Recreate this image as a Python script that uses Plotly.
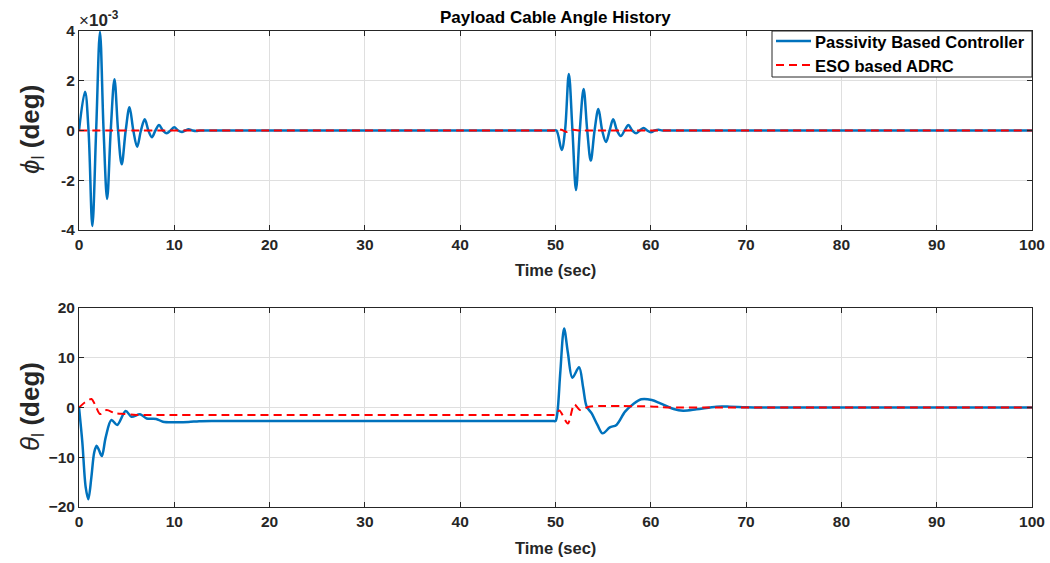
import plotly.graph_objects as go

# ---------------- data ----------------
# Top panel: phi_l (deg), values in degrees
phi_pbc_t = [0, 0.63, 1.0, 1.4, 1.8, 2.2, 2.58, 2.95, 3.33, 3.72, 4.1, 4.48, 4.9, 5.3, 5.7,
             6.1, 6.5, 6.9, 7.28, 7.65, 8.02, 8.4, 8.8, 9.2, 9.6, 10.0, 10.4, 10.8, 11.15,
             11.5, 11.9, 12.3, 12.7, 13.2, 14, 20, 30, 40, 48, 49.5, 49.8, 50.1,
             50.65, 51.0, 51.4, 51.78, 52.15, 52.55, 52.95, 53.33, 53.7, 54.1, 54.5, 54.9,
             55.3, 55.68, 56.05, 56.45, 56.85, 57.25, 57.65, 58.05, 58.45, 58.85, 59.25,
             59.62, 60.0, 60.4, 60.8, 61.2, 61.6, 62.2, 63, 70, 80, 90, 100]
phi_pbc_v = [0, 1.56e-3, 0, -3.84e-3, 0, 3.97e-3, 0, -2.75e-3, 0, 2.06e-3, 0, -1.36e-3, 0,
             0.93e-3, 0, -0.65e-3, 0, 0.45e-3, 0, -0.27e-3, 0, 0.22e-3, 0, -0.11e-3, 0,
             0.13e-3, 0, -0.06e-3, 0, 0.05e-3, 0, -0.02e-3, 0, 0, 0, 0, 0, 0, 0, 0, 0, 0,
             -0.78e-3, 0, 2.27e-3, 0, -2.39e-3, 0, 1.67e-3, 0, -1.21e-3, 0, 0.86e-3, 0,
             -0.46e-3, 0, 0.45e-3, 0, -0.22e-3, 0, 0.22e-3, 0, -0.11e-3, 0, 0.10e-3,
             0, -0.07e-3, 0, 0.03e-3, 0, 0, 0, 0, 0, 0, 0, 0]

phi_adrc_t = [0, 20, 40, 49, 49.6, 50, 50.6, 51.2, 51.8, 52.5, 53, 54, 60, 80, 100]
phi_adrc_v = [0, 0, 0, 0, 0, 0, 0.03e-3, -0.06e-3, 0.03e-3, 0, 0, 0, 0, 0, 0]

# Bottom panel: theta_l (deg)
theta_pbc_t = [0, 0.35, 0.7, 0.98, 1.3, 1.6, 1.85, 2.1, 2.4, 2.8, 3.4, 4.0, 4.9, 5.5, 6.4,
               7.1, 8.1, 8.8, 10.2, 11.5, 12.6, 14, 16, 20, 25, 30, 35, 40, 45, 48, 49.3,
               49.7, 50.0, 50.2, 50.5, 50.9, 51.3, 51.77,
               52.47, 52.9, 53.27, 53.8, 54.4, 54.95, 55.7, 56.4, 57.3, 58.17, 59.0, 60.1,
               61.0, 62.4, 63.4, 64.8, 66.9, 68.3, 70, 72, 74, 78, 85, 92, 100]
theta_pbc_v = [0, -7, -16, -18.45, -14, -9, -7.7, -8.6, -9.75, -6, -2.5, -3.5, -0.7, -1.85,
               -1.37, -2.2, -2.3, -2.85, -2.95, -2.9, -2.75, -2.7, -2.7, -2.7, -2.7, -2.7,
               -2.7, -2.7, -2.7, -2.7, -2.7, -2.7, -2.7, -1, 7, 15.9, 11,
               6.0, 8.08, 4, 0.2, -1.2, -3.5, -5.2, -4.0, -3.5, -0.84, 0.7, 1.64, 1.5,
               0.84, -0.3, -0.64, -0.37, 0.17, 0.17, 0.05, 0, 0, 0, 0, 0, 0]

theta_adrc_t = [0, 0.6, 1.3, 1.75, 2.2, 2.9, 3.7, 4.75, 6, 7, 9, 15, 25, 35, 45, 48,
                49.3, 49.7, 50, 50.4, 51.3, 51.97, 52.57, 53.5, 55, 57, 60, 61, 62, 63,
                66, 75, 85, 100]
theta_adrc_v = [0, 1.0, 1.7, 0.3, -1.3, -0.5, -1.1, -1.3, -1.5, -1.5, -1.5, -1.5, -1.5,
                -1.5, -1.5, -1.5, -1.5, -1.5, -1.5, -0.6, -3.2, 0.64, -0.5, 0.16, 0.3,
                0.3, 0.2, 0.1, 0, 0, 0, 0, 0, 0]

series_names = ["Passivity Based Controller", "ESO based ADRC"]
x_ticks = [0, 10, 20, 30, 40, 50, 60, 70, 80, 90, 100]
phi_ticks = [-4e-3, -2e-3, 0, 2e-3, 4e-3]
phi_ticktext = ["-4", "-2", "0", "2", "4"]
theta_ticks = [-20, -10, 0, 10, 20]

# ---------------- figure ----------------
W, H = 1050, 563
ML, MR, MT, MB = 79, 18, 31, 56
PW, PH = W - ML - MR, H - MT - MB

def px(x):
    return (x - ML) / PW

def py(y):
    return (H - MB - y) / PH

BLUE = "#0072BD"
RED = "#FF0000"
FONT = "Liberation Sans, Arial, Helvetica, sans-serif"
styles = [dict(color=BLUE, width=2.5), dict(color=RED, width=2, dash="8px,5px")]

fig = go.Figure()
fig.add_trace(go.Scatter(x=phi_pbc_t, y=phi_pbc_v, mode="lines", name=series_names[0],
                         line=dict(**styles[0], shape="spline", smoothing=1.0),
                         xaxis="x", yaxis="y"))
fig.add_trace(go.Scatter(x=phi_adrc_t, y=phi_adrc_v, mode="lines", name=series_names[1],
                         line=dict(**styles[1], shape="spline", smoothing=0.8),
                         xaxis="x", yaxis="y"))
fig.add_trace(go.Scatter(x=theta_pbc_t, y=theta_pbc_v, mode="lines", name=series_names[0],
                         line=dict(**styles[0], shape="spline", smoothing=0.9),
                         xaxis="x2", yaxis="y2"))
fig.add_trace(go.Scatter(x=theta_adrc_t, y=theta_adrc_v, mode="lines", name=series_names[1],
                         line=dict(**styles[1], shape="spline", smoothing=0.8),
                         xaxis="x2", yaxis="y2"))

axis_common = dict(showline=True, linecolor="#262626", linewidth=1, mirror="ticks",
                   ticks="inside", ticklen=5, tickcolor="#262626", automargin=False,
                   showgrid=True, gridcolor="#DFDFDF", gridwidth=1, zeroline=False,
                   tickfont=dict(family=FONT, size=15.5, color="#262626", weight="bold"))

top_dom = [py(230), 1]
bot_dom = [0, py(308)]

fig.update_layout(
    width=W, height=H, autosize=False,
    margin=dict(l=ML, r=MR, t=MT, b=MB, autoexpand=False),
    paper_bgcolor="white", plot_bgcolor="white",
    font=dict(family=FONT, color="#262626"),
    xaxis=dict(domain=[0, 1], range=[0, 100], tickvals=x_ticks, anchor="y", **axis_common),
    yaxis=dict(domain=top_dom, range=[-4e-3, 4e-3], tickvals=phi_ticks, ticktext=phi_ticktext,
               anchor="x", **axis_common),
    xaxis2=dict(domain=[0, 1], range=[0, 100], tickvals=x_ticks, anchor="y2", **axis_common),
    yaxis2=dict(domain=bot_dom, range=[-20, 20], tickvals=theta_ticks, anchor="x2", **axis_common),
    showlegend=False,
)

# legend box (MATLAB style, compact rows)
fig.add_shape(type="rect", xref="paper", yref="paper", x0=px(772), x1=px(1032), y0=py(77), y1=py(31),
              line=dict(color="#262626", width=1), fillcolor="white", layer="above")
for i, (name, st) in enumerate(zip(series_names, styles)):
    yrow = 41 + 24 * i
    fig.add_shape(type="line", xref="paper", yref="paper", x0=px(776), x1=px(811),
                  y0=py(yrow), y1=py(yrow), line=st, layer="above")
    fig.add_annotation(x=px(813), y=py(yrow + 1), text="<b>" + name + "</b>", xref="paper", yref="paper",
                       showarrow=False, xanchor="left", yanchor="middle",
                       font=dict(family=FONT, size=16.5, color="black"))

fig.add_annotation(x=px(555), y=py(17), text="<b>Payload Cable Angle History</b>",
                   xref="paper", yref="paper", showarrow=False,
                   xanchor="center", yanchor="middle", font=dict(family=FONT, size=17, color="black"))
fig.add_annotation(x=px(77), y=py(19), text="×<b>10</b><sup><b>-3</b></sup>",
                   xref="paper", yref="paper", showarrow=False,
                   xanchor="left", yanchor="middle", font=dict(family=FONT, size=17, color="#262626"))
for yy in (270, 548):
    fig.add_annotation(x=px(555), y=py(yy), text="<b>Time (sec)</b>",
                       xref="paper", yref="paper", showarrow=False,
                       xanchor="center", yanchor="middle", font=dict(family=FONT, size=16.5, color="#262626"))
fig.add_annotation(x=px(31), y=py(130), text="<i>ϕ</i><sub>l</sub> <b>(deg)</b>", textangle=-90,
                   xref="paper", yref="paper", showarrow=False,
                   xanchor="center", yanchor="middle", font=dict(family=FONT, size=26, color="#262626"))
fig.add_annotation(x=px(31), y=py(407), text="<i>θ</i><sub>l</sub> <b>(deg)</b>", textangle=-90,
                   xref="paper", yref="paper", showarrow=False,
                   xanchor="center", yanchor="middle", font=dict(family=FONT, size=26, color="#262626"))

fig.write_html("out.html")
